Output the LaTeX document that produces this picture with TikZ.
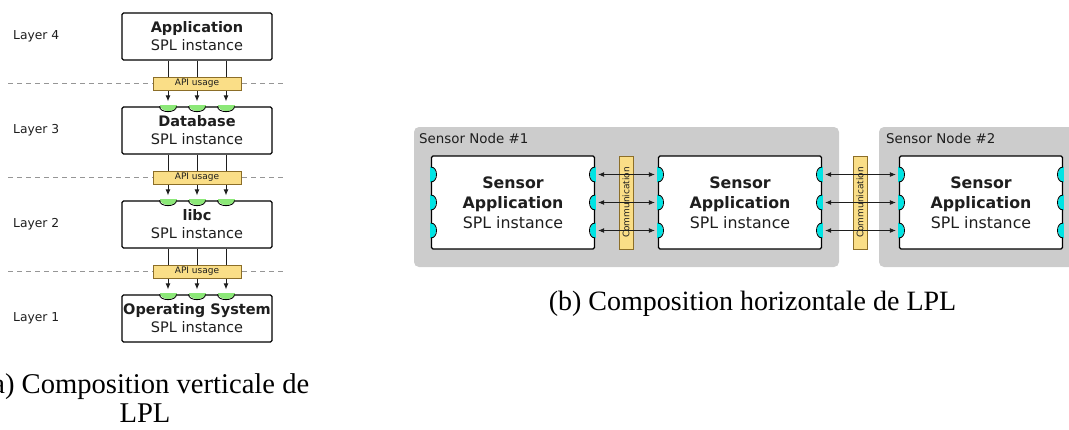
\documentclass[tikz,border=0pt]{standalone}
\usepackage{fontspec}
\setmainfont{DejaVu Sans}
\newfontfamily\capfont{Liberation Serif}
\usetikzlibrary{arrows.meta}
\definecolor{nodegray}{RGB}{204,204,204}
\definecolor{apifill}{RGB}{250,222,135}
\definecolor{apidraw}{RGB}{140,110,40}
\definecolor{pgreen}{RGB}{140,232,120}
\definecolor{pcyan}{RGB}{0,228,228}
\definecolor{txt}{RGB}{30,30,30}
\definecolor{dashgray}{RGB}{150,150,150}
\tikzset{
  splbox/.style={draw=black, line width=1.2pt, fill=white, rounded corners=1.5pt,
    minimum width=150pt, minimum height=47pt, inner sep=0pt, align=center,
    font=\fontsize{14.5}{18}\selectfont, text=txt},
  sensbox/.style={splbox, minimum width=163pt, minimum height=93pt,
    font=\fontsize{15.8}{20}\selectfont},
  apibox/.style={draw=apidraw, line width=0.8pt, fill=apifill, inner sep=0pt,
    minimum width=88pt, minimum height=13pt, font=\fontsize{9}{10}\selectfont, text=txt},
  commbar/.style={apibox, rotate=90, minimum width=93pt, minimum height=14pt},
  container/.style={fill=nodegray, rounded corners=5pt},
  layerlbl/.style={anchor=west, inner sep=0pt, font=\fontsize{12.3}{14}\selectfont, text=txt},
  nodelbl/.style={anchor=west, inner sep=0pt, font=\fontsize{13.4}{15}\selectfont, text=txt},
  sep/.style={draw=dashgray, line width=0.8pt, dash pattern=on 5pt off 4pt},
  arr/.style={draw=txt, line width=0.9pt, -{Latex[length=6pt,width=5pt]}, shorten >=5pt},
  darr/.style={draw=txt, line width=0.9pt, {Latex[length=6pt,width=5pt]}-{Latex[length=6pt,width=5pt]},
    shorten >=3pt, shorten <=3pt},
  captxt/.style={anchor=base, inner sep=0pt, font=\capfont\fontsize{28}{29}\selectfont},
  gport/.pic={
    \fill[pgreen] (-8.5,-1) .. controls (-8.5,7) and (8.5,7) .. (8.5,-1) -- cycle;
    \draw[line width=0.8pt] (-8.5,0) .. controls (-8.5,7) and (8.5,7) .. (8.5,0);},
  cportr/.pic={
    \fill[pcyan] (-1,-7.5) .. controls (7.5,-7.5) and (7.5,7.5) .. (-1,7.5) -- cycle;
    \draw[line width=0.8pt] (0,-7.5) .. controls (7.5,-7.5) and (7.5,7.5) .. (0,7.5);},
  cportl/.pic={
    \fill[pcyan] (1,-7.5) .. controls (-7.5,-7.5) and (-7.5,7.5) .. (1,7.5) -- cycle;
    \draw[line width=0.8pt] (0,-7.5) .. controls (-7.5,-7.5) and (-7.5,7.5) .. (0,7.5);}
}
\begin{document}
\begin{tikzpicture}[x=1pt,y=-1pt]
\useasboundingbox (0,0) rectangle (1069,429);
\clip (0,0) rectangle (1069,429);

% ---------------- left panel ----------------
\draw[sep] (8,83.5) -- (285,83.5);
\draw[sep] (8,177.5) -- (285,177.5);
\draw[sep] (8,271.5) -- (285,271.5);

\node[layerlbl] (l4) at (13,36) {Layer 4};
\node[layerlbl] (l3) at (13,130) {Layer 3};
\node[layerlbl] (l2) at (13,224) {Layer 2};
\node[layerlbl] (l1) at (13,318) {Layer 1};

\node[splbox] (app) at (197,36.5) {\textbf{Application}\\SPL instance};
\node[splbox] (db)  at (197,130.5) {\textbf{Database}\\SPL instance};
\node[splbox] (libc) at (197,224.5) {\textbf{libc}\\SPL instance};
\node[splbox] (os)  at (197,318.5) {\textbf{Operating System}\\SPL instance};

\foreach \b in {db,libc,os}{
  \foreach \dx in {-29,0,29}{
    \pic at ([xshift=\dx pt]\b.north) {gport};
  }
}

\foreach \a/\b in {app/db,db/libc,libc/os}{
  \foreach \dx in {-29,0,29}{
    \draw[arr] ([xshift=\dx pt]\a.south) -- ([xshift=\dx pt]\b.north);
  }
}

\node[apibox] (api3) at (197,83.5) {API usage};
\node[apibox] (api2) at (197,177.5) {API usage};
\node[apibox] (api1) at (197,271.5) {API usage};

\node[captxt, font=\capfont\fontsize{28.6}{29}\selectfont] (capa1) at (146,393) {(a) Composition verticale de};
\node[captxt, font=\capfont\fontsize{28.6}{29}\selectfont] (capa2) at (145,422) {LPL};

% ---------------- right panel ----------------
\fill[container] (414,127) rectangle (839,267);
\fill[container] (879,127) rectangle (1090,267);
\node[nodelbl] (sn1) at (419,139) {Sensor Node \#1};
\node[nodelbl] (sn2) at (886,139) {Sensor Node \#2};

\node[sensbox] (b1) at (513,202.5) {\textbf{Sensor}\\\textbf{Application}\\SPL instance};
\node[sensbox] (b2) at (740,202.5) {\textbf{Sensor}\\\textbf{Application}\\SPL instance};
\node[sensbox] (b3) at (981,202.5) {\textbf{Sensor}\\\textbf{Application}\\SPL instance};

\foreach \b in {b1,b2,b3}{
  \foreach \dy in {-28,0,28}{
    \pic at ([yshift=\dy pt]\b.west) {cportr};
    \pic at ([yshift=\dy pt]\b.east) {cportl};
  }
}

\node[commbar] (c1) at (626,202.5) {Communication};
\node[commbar] (c2) at (860,202.5) {Communication};

\foreach \a/\b in {b1/b2,b2/b3}{
  \foreach \dy in {-28,0,28}{
    \draw[darr] ([yshift=\dy pt]\a.east) -- ([yshift=\dy pt]\b.west);
  }
}

\node[captxt] (capb) at (752.5,310) {(b) Composition horizontale de LPL};
\end{tikzpicture}
\end{document}
